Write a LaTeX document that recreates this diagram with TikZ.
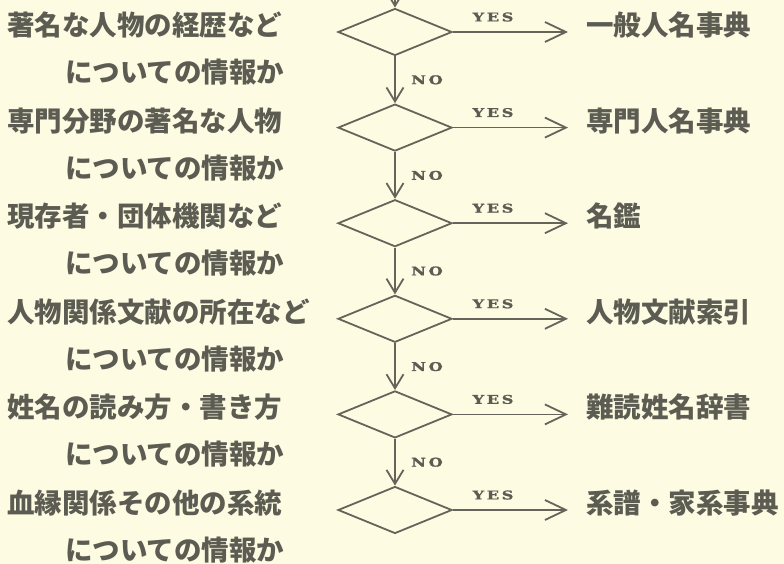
\documentclass[tikz,border=0pt]{standalone}
\usepackage{fontspec}
\usetikzlibrary{shapes.geometric,arrows.meta,calc}
\newfontfamily\jp{Noto Sans CJK JP}
\newfontfamily\lbl{DejaVu Serif}[UprightFont=* Bold,LetterSpace=22,FakeStretch=1.35,FakeBold=1.2]
\definecolor{bg}{RGB}{253,251,226}
\definecolor{ink}{RGB}{92,92,82}
\definecolor{lne}{RGB}{100,100,90}
\tikzset{
  dec/.style={diamond, draw=lne, line width=1.8pt, minimum width=114pt, minimum height=47pt, inner sep=0pt, aspect=2.4},
  jtext/.style={anchor=west, inner sep=0pt, text=ink, font=\jp\bfseries\fontsize{27.5}{30}\selectfont},
  flow/.style={draw=lne, line width=1.8pt, -{Straight Barb[length=14pt,width=17pt,line width=1.8pt]}},
  yesflow/.style={draw=lne, line width=1.8pt, shorten >=18pt, -{Straight Barb[length=21pt,width=20pt,line width=1.8pt]}},
  lab/.style={inner sep=0pt, text=ink, font=\lbl\fontsize{12}{12}\selectfont}
}
\begin{document}
\begin{tikzpicture}[x=1pt,y=-1pt]
\fill[bg] (0,0) rectangle (784,564);
\useasboundingbox (0,0) rectangle (784,564);
\clip (0,0) rectangle (784,564);
\foreach \i/\y/\qa/\an in {
  1/32/著名な人物の経歴など/一般人名事典,
  2/127.6/専門分野の著名な人物/専門人名事典,
  3/223.2/現存者・団体機関など/名鑑,
  4/318.8/人物関係文献の所在など/人物文献索引,
  5/414.4/姓名の読み方・書き方/難読姓名辞書,
  6/510/血縁関係その他の系統/系譜・家系事典}{
  \node[dec] (d\i) at (395,\y) {};
  \node[jtext] (qa\i) at (7,\y-7) {\qa};
  \node[jtext] (qb\i) at (65,\y+40) {についての情報か};
  \node[jtext] (r\i) at (586,\y-7) {\an};
  \draw[yesflow] (d\i.east) -- (d\i.east -| r\i.west);
  \node[lab] (yes\i) at (493,\y-15) {YES};
}
\coordinate (start) at (395,-20);
\draw[flow] (start) -- (d1.north);
\foreach \i/\j in {1/2,2/3,3/4,4/5,5/6}{
  \draw[flow] (d\i.south) -- (d\j.north);
  \node[lab, anchor=west] (no\i) at ($(d\i.south)!0.5!(d\j.north)+(16,0)$) {NO};
}
\end{tikzpicture}
\end{document}
